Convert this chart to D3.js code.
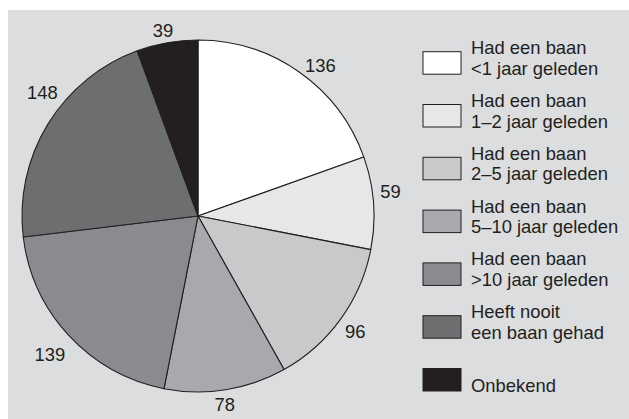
<!DOCTYPE html>
<html>
<head>
<meta charset="utf-8">
<script src="https://cdn.jsdelivr.net/npm/d3@7"></script>
<style>
  html, body { margin: 0; padding: 0; background: #ffffff; }
  svg { display: block; }
  text { font-family: "Liberation Sans", Arial, Helvetica, sans-serif; fill: #231f20; }
</style>
</head>
<body>
<svg id="chart" width="629" height="419"></svg>
<script>
// ---- data ----
const categories = [
  "Had een baan\n<1 jaar geleden",
  "Had een baan\n1\u20132 jaar geleden",
  "Had een baan\n2\u20135 jaar geleden",
  "Had een baan\n5\u201310 jaar geleden",
  "Had een baan\n>10 jaar geleden",
  "Heeft nooit\neen baan gehad",
  "Onbekend"
];
const values = [136, 59, 96, 78, 139, 148, 39];
const colors = ["#ffffff", "#e6e7e9", "#c8c9cb", "#a8a9ac", "#8a8b8e", "#6d6e70", "#231f20"];

// ---- layout ----
const W = 629, H = 419;
const cx = 198, cy = 216, R = 176;
const labelRadius = [194, 194, 195, 190, 203, 199, 189];
const labelNudgeDeg = [3.9, -3.0, 0.4, 1.0, -0.3, 7.1, -0.6];
const fontSize = 18.4;

const svg = d3.select("#chart");

svg.append("rect")
  .attr("x", 8).attr("y", 10)
  .attr("width", W - 8).attr("height", H - 10)
  .attr("fill", "#dcdddf");

const pie = d3.pie().sort(null).value(d => d)
  .startAngle(0).endAngle(2 * Math.PI);
const arcs = pie(values);
const arc = d3.arc().innerRadius(0).outerRadius(R);

const g = svg.append("g").attr("transform", `translate(${cx},${cy})`);

g.selectAll("path.slice")
  .data(arcs)
  .enter().append("path")
  .attr("class", "slice")
  .attr("d", arc)
  .attr("fill", (d, i) => colors[i])
  .attr("stroke", "#231f20")
  .attr("stroke-width", 1.1)
  .attr("stroke-linejoin", "round");

const labelAngle = (d, i) => (d.startAngle + d.endAngle) / 2 + labelNudgeDeg[i] * Math.PI / 180;

g.selectAll("text.val")
  .data(arcs)
  .enter().append("text")
  .attr("class", "val")
  .attr("text-anchor", "middle")
  .attr("dy", "0.36em")
  .attr("font-size", fontSize)
  .attr("x", (d, i) => labelRadius[i] * Math.sin(labelAngle(d, i)))
  .attr("y", (d, i) => -labelRadius[i] * Math.cos(labelAngle(d, i)))
  .text(d => d.value);

// ---- legend ----
const legX = 423, legY0 = 51.7, legStep = 52.8, boxW = 38, boxH = 22.5;
const leg = svg.append("g");
categories.forEach((c, i) => {
  const y = legY0 + i * legStep;
  leg.append("rect")
    .attr("x", legX).attr("y", y)
    .attr("width", boxW).attr("height", boxH)
    .attr("fill", colors[i])
    .attr("stroke", "#231f20")
    .attr("stroke-width", 1);
  const lines = c.split("\n");
  const lastBase = y + boxH + 0.5;
  lines.forEach((ln, j) => {
    leg.append("text")
      .attr("x", 471)
      .attr("y", lastBase - (lines.length - 1 - j) * 20.5)
      .attr("font-size", fontSize)
      .text(ln);
  });
});
</script>
</body>
</html>
